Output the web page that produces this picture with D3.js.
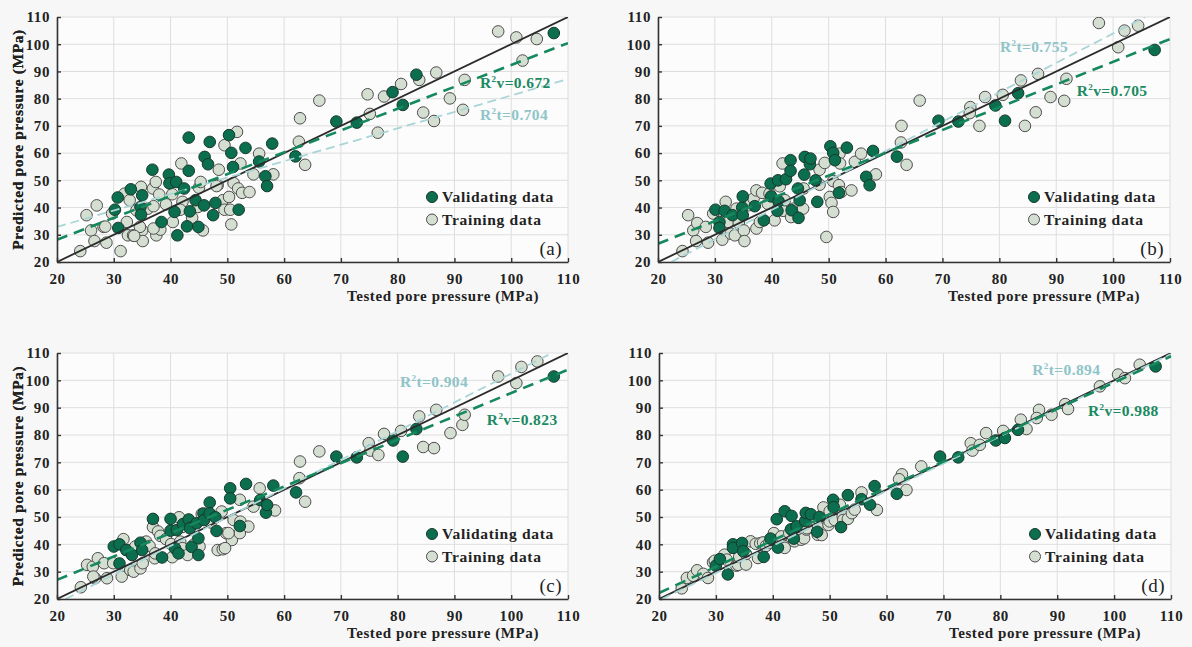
<!DOCTYPE html>
<html><head><meta charset="utf-8">
<script src="https://cdn.jsdelivr.net/npm/d3@7"></script>
<style>
html,body{margin:0;padding:0;background:#f7f7f7;}
svg{display:block;font-family:"Liberation Serif","Times New Roman",serif;}
</style></head><body>
<svg id="chart" width="1192" height="647"></svg>
<script>
// ---------- data ----------
const axisTicks = [20, 30, 40, 50, 60, 70, 80, 90, 100, 110];
const xTitle = "Tested pore pressure (MPa)";
const yTitle = "Predicted pore pressure (MPa)";
const legendLabels = ["Validating data", "Training data"];
const panelLabels = ["(a)", "(b)", "(c)", "(d)"];
const r2Train = ["0.704", "0.755", "0.904", "0.894"];
const r2Valid = ["0.672", "0.705", "0.823", "0.988"];

const trainA = [[24.1,24.0],[25.2,37.2],[26.0,31.6],[27.0,40.8],[26.6,27.7],[28.2,32.9],[28.7,27.1],[29.7,37.8],[31.2,24.0],[31.9,45.1],[32.5,29.8],[32.3,34.7],[32.8,42.7],[33.4,29.8],[34.0,39.0],[34.8,47.6],[35.0,31.6],[35.1,27.7],[34.6,32.9],[36.0,39.6],[36.9,47.0],[37.0,40.5],[37.4,49.4],[37.5,29.8],[38.0,44.8],[38.2,31.9],[37.0,32.3],[39.2,41.2],[40.3,44.9],[40.4,34.7],[41.9,56.2],[42.1,42.1],[41.7,39.2],[43.8,36.3],[44.8,40.2],[45.0,47.3],[45.3,49.4],[45.7,31.6],[48.5,53.9],[49.5,62.9],[48.3,48.2],[49.2,42.7],[49.5,39.2],[50.3,43.9],[50.7,33.8],[50.5,39.2],[51.1,49.0],[51.7,67.8],[51.9,47.0],[52.3,56.2],[52.6,45.4],[53.9,45.7],[54.6,52.2],[55.6,59.8],[58.1,52.2],[48.1,47.9],[28.5,33.0],[33.6,29.6],
[62.8,72.8],[62.6,64.2],[63.7,55.7],[66.2,79.3],[74.7,81.6],[75.1,74.4],[76.5,67.5],[77.6,80.8],[80.6,85.4],[83.8,86.9],[86.8,89.6],[84.5,74.9],[86.4,71.8],[89.2,80.1],[91.5,75.9],[91.8,86.9],[97.7,104.7],[100.9,102.5],[102.0,94.0],[104.5,101.9]];
const validA = [[30.2,39.2],[30.7,43.7],[30.8,32.5],[33.0,46.7],[34.7,40.2],[34.8,37.4],[35.0,44.5],[36.8,53.9],[38.4,34.7],[39.7,52.1],[39.8,48.9],[40.7,38.4],[41.0,49.4],[41.2,29.8],[42.4,47.0],[42.9,33.1],[43.2,65.7],[43.2,53.5],[43.4,38.6],[44.4,42.7],[44.9,32.9],[45.9,40.8],[46.0,58.6],[46.6,55.9],[46.9,64.1],[47.5,37.2],[47.9,41.7],[50.3,66.6],[50.7,60.1],[51.0,54.9],[52.0,39.2],[53.2,61.9],[55.6,56.9],[56.7,51.5],[57.0,47.9],[57.9,63.5],[62.0,58.8],[69.2,71.6],[72.8,71.2],[79.1,82.4],[80.9,77.7],[83.3,88.8],[107.5,104.1]];

const trainB = [[24.3,24.0],[25.3,37.2],[26.2,31.6],[26.9,34.3],[26.7,27.7],[28.4,32.9],[28.8,27.1],[29.7,37.8],[31.3,28.2],[31.9,42.1],[32.3,34.7],[32.8,30.4],[33.5,29.8],[33.8,39.6],[34.2,34.3],[35.1,31.6],[35.2,27.7],[35.8,40.8],[36.8,43.3],[37.3,46.3],[37.3,32.3],[37.9,34.7],[38.3,45.4],[39.3,41.4],[39.6,45.1],[40.5,35.3],[41.4,47.8],[41.9,56.2],[42.0,38.8],[42.3,42.7],[43.4,36.5],[43.8,39.6],[45.5,39.6],[45.6,47.0],[48.4,53.9],[48.4,48.4],[49.3,56.4],[49.6,29.2],[50.2,43.9],[50.5,41.7],[50.8,38.4],[50.8,49.7],[51.8,48.2],[51.9,59.8],[52.0,56.2],[52.2,45.7],[54.0,46.3],[54.6,56.8],[55.7,59.8],[58.3,52.2],
[62.8,70.0],[62.7,63.9],[63.7,55.7],[66.0,79.3],[74.9,76.9],[74.8,74.7],[76.5,70.0],[77.5,80.6],[80.6,81.4],[83.8,86.7],[86.8,89.1],[84.5,70.0],[86.4,75.0],[89.0,80.6],[91.4,79.2],[91.8,87.3],[97.5,107.8],[100.9,98.9],[102.0,105.0],[104.4,106.8]];
const validB = [[30.1,39.2],[30.8,34.7],[30.8,32.5],[31.7,38.8],[33.1,37.2],[34.8,40.0],[34.9,44.1],[34.9,37.2],[37.0,40.5],[38.6,35.3],[39.8,48.8],[39.9,44.1],[41.0,38.8],[41.1,50.0],[41.2,42.3],[42.5,50.4],[43.3,57.4],[43.3,53.5],[43.5,39.0],[44.6,47.0],[44.7,36.2],[44.9,42.7],[45.7,52.1],[45.8,58.6],[46.7,55.9],[46.8,58.0],[47.7,50.0],[48.0,42.1],[50.3,62.5],[50.8,60.1],[51.1,57.4],[51.8,45.4],[53.2,62.0],[56.6,51.3],[57.2,48.2],[57.8,60.8],[62.0,58.7],[69.3,71.9],[72.8,71.6],[79.3,77.5],[81.0,71.9],[83.3,82.0],[107.3,97.9]];

const trainC = [[24.2,24.3],[25.3,32.5],[26.3,31.8],[27.2,34.9],[26.7,27.6],[28.3,33.1],[28.8,27.6],[29.9,33.1],[31.4,28.2],[31.7,41.9],[32.6,37.9],[32.9,30.6],[33.5,30.0],[33.8,39.2],[34.7,31.2],[35.1,33.1],[35.7,41.0],[36.3,39.4],[36.9,46.3],[37.2,34.9],[37.8,44.7],[38.2,43.1],[39.2,41.9],[40.1,40.1],[40.3,35.3],[41.5,49.9],[41.7,41.0],[42.1,38.6],[43.0,36.1],[44.2,40.1],[45.1,39.2],[45.5,51.1],[47.1,48.0],[48.3,37.9],[49.2,38.2],[49.0,52.0],[49.8,44.1],[50.8,41.6],[51.1,48.9],[52.2,56.3],[52.3,48.3],[52.2,44.1],[53.7,46.5],[54.6,53.8],[55.7,60.5],[58.4,52.4],[37.3,36.7],[42.0,46.3],[50.2,44.1],[49.6,38.6],[26.4,28.2],
[62.8,70.3],[62.7,64.2],[63.7,55.6],[66.2,74.0],[74.9,77.0],[75.2,74.3],[76.6,72.7],[77.6,80.4],[80.6,81.5],[83.8,86.8],[86.8,89.2],[84.5,75.6],[86.4,75.2],[89.3,80.7],[91.4,83.7],[91.8,87.4],[97.7,101.4],[100.9,99.0],[101.8,104.9],[104.6,106.9]];
const validC = [[30.0,39.2],[31.0,40.0],[31.0,33.0],[32.2,37.9],[33.2,36.1],[34.7,40.6],[35.0,37.9],[36.9,49.3],[38.5,35.2],[40.0,49.3],[40.0,45.0],[40.8,38.5],[41.1,45.2],[41.4,36.7],[42.2,47.4],[43.2,49.1],[43.4,45.9],[43.7,39.1],[44.6,47.7],[44.9,42.2],[44.9,36.1],[45.8,51.3],[45.9,48.9],[46.9,55.3],[46.9,51.3],[47.9,49.9],[48.1,44.9],[50.5,60.5],[50.5,56.8],[52.2,46.7],[53.3,62.1],[55.8,56.2],[56.8,51.6],[57.0,54.4],[58.1,61.5],[62.1,59.0],[69.2,72.1],[72.8,71.8],[79.2,78.0],[80.9,72.1],[83.3,82.2],[107.5,101.4]];

const trainD = [[24.0,23.9],[24.9,27.7],[26.0,28.5],[26.7,30.5],[27.8,29.2],[28.6,27.7],[29.5,33.4],[29.8,34.0],[31.5,36.2],[31.9,34.4],[33.6,32.2],[33.9,32.5],[34.1,35.4],[35.3,32.6],[35.3,36.5],[36.1,41.1],[37.0,40.2],[37.4,35.0],[37.8,40.4],[38.3,40.7],[38.8,39.4],[39.4,40.5],[40.2,44.1],[40.6,41.6],[41.4,41.9],[41.5,42.9],[42.0,39.4],[42.1,38.7],[42.9,44.1],[43.8,41.1],[44.8,43.4],[45.0,41.7],[45.5,42.2],[45.9,45.4],[46.0,45.9],[47.9,43.5],[48.3,47.8],[48.6,43.4],[48.9,53.5],[49.5,48.9],[49.8,47.1],[50.0,48.4],[50.0,52.1],[50.8,50.2],[50.9,48.9],[51.1,53.2],[51.8,54.5],[52.3,50.2],[52.4,48.9],[53.2,49.3],[53.9,51.4],[54.4,52.7],[55.6,59.0],[58.3,52.6],
[62.7,65.6],[62.2,63.8],[63.5,59.9],[66.1,68.5],[74.8,77.0],[75.1,74.3],[76.4,76.4],[77.5,80.7],[80.5,81.5],[83.6,85.6],[84.6,82.2],[86.8,89.2],[86.4,86.2],[89.0,87.4],[91.4,91.3],[91.9,89.5],[97.5,97.8],[100.7,102.1],[101.9,100.8],[104.5,105.7]];
const validD = [[30.0,32.2],[30.7,34.6],[32.1,29.0],[33.0,40.0],[33.0,38.7],[34.6,40.5],[34.8,37.5],[38.4,35.4],[39.6,42.1],[40.7,49.2],[40.9,38.8],[42.1,52.1],[43.2,45.5],[43.3,50.4],[43.7,42.1],[44.2,46.6],[45.7,48.5],[45.8,51.5],[46.7,51.0],[47.8,44.6],[48.2,50.0],[50.6,56.3],[50.7,53.6],[52.0,46.3],[53.2,58.0],[55.6,56.5],[57.1,54.5],[57.9,61.3],[61.8,58.5],[69.4,72.1],[72.6,71.8],[79.2,78.0],[80.8,78.9],[83.1,81.9],[107.3,105.1]];

const identityLine = [[20,20],[110,110]];
const fitValid = [[[20,28.2],[110,100.4]], [[20,26.7],[110,101.9]], [[20,27.0],[110,103.9]], [[20,22.2],[110,108.8]]];
const fitTrain = [[[20,32.9],[110,87.2]], [[22.3,20],[105.6,110]], [[21.5,20],[107.2,110]], [[20.5,20],[110,109.6]]];

const trainSets = [trainA, trainB, trainC, trainD];
const validSets = [validA, validB, validC, validD];

// ---------- layout & style ----------
const layout = [
  {left:57,  top:17,  w:511, h:245, r2t:[94.5,72.2], r2v:[94.5,84.0]},
  {left:658, top:17,  w:512, h:245, r2t:[80.1,97.2], r2v:[93.6,81.0]},
  {left:57,  top:353, w:511, h:246, r2t:[80.4,97.7], r2v:[95.7,83.7]},
  {left:659, top:353, w:512, h:246, r2t:[85.6,102.1], r2v:[95.4,87.0]}
];
const C = {
  vFill:"#0b6e4f", vStroke:"#17382b",
  tFill:"#d4ded1", tStroke:"#4d4d4d",
  vLine:"#15895d", tLine:"#a9d5d6", idLine:"#2b2b2b",
  vText:"#1b8a62", tText:"#8fc4c9",
  grid:"#dedede", axis:"#333", text:"#222"
};

const svg = d3.select("#chart");

layout.forEach((L, i) => {
  const x = d3.scaleLinear().domain([20,110]).range([0, L.w]);
  const y = d3.scaleLinear().domain([20,110]).range([L.h, 0]);
  const g = svg.append("g").attr("transform", `translate(${L.left},${L.top})`);

  g.append("rect").attr("width", L.w).attr("height", L.h).attr("fill", "#fcfcfc");

  const clipId = "clip" + i;
  g.append("clipPath").attr("id", clipId).append("rect").attr("width", L.w).attr("height", L.h);

  // grid
  g.append("g").selectAll("line.v").data(axisTicks).join("line")
    .attr("x1", d => x(d)).attr("x2", d => x(d)).attr("y1", 0).attr("y2", L.h)
    .attr("stroke", C.grid).attr("stroke-width", 1);
  g.append("g").selectAll("line.h").data(axisTicks).join("line")
    .attr("y1", d => y(d)).attr("y2", d => y(d)).attr("x1", 0).attr("x2", L.w)
    .attr("stroke", C.grid).attr("stroke-width", 1);

  // points
  const pts = g.append("g").attr("clip-path", `url(#${clipId})`);
  pts.selectAll("circle.t").data(trainSets[i]).join("circle")
    .attr("cx", d => x(d[0])).attr("cy", d => y(d[1])).attr("r", 5.8)
    .attr("fill", C.tFill).attr("stroke", C.tStroke).attr("stroke-width", 1);
  pts.selectAll("circle.v").data(validSets[i]).join("circle")
    .attr("cx", d => x(d[0])).attr("cy", d => y(d[1])).attr("r", 5.8)
    .attr("fill", C.vFill).attr("stroke", C.vStroke).attr("stroke-width", 1);

  // lines
  const line = d3.line().x(d => x(d[0])).y(d => y(d[1]));
  const lg = g.append("g").attr("clip-path", `url(#${clipId})`);
  lg.append("path").attr("d", line(identityLine)).attr("fill","none")
    .attr("stroke", C.idLine).attr("stroke-width", 1.8);
  lg.append("path").attr("d", line(fitTrain[i])).attr("fill","none")
    .attr("stroke", C.tLine).attr("stroke-width", 1.8).attr("stroke-dasharray","9,5");
  lg.append("path").attr("d", line(fitValid[i])).attr("fill","none")
    .attr("stroke", C.vLine).attr("stroke-width", 2.6).attr("stroke-dasharray","11,7");

  // axes
  const ax = g.append("g").attr("transform", `translate(0,${L.h})`)
    .call(d3.axisBottom(x).tickValues(axisTicks).tickSizeInner(-4).tickSizeOuter(0).tickPadding(11));
  const ay = g.append("g")
    .call(d3.axisLeft(y).tickValues(axisTicks).tickSizeInner(-4).tickSizeOuter(0).tickPadding(7));
  [ax, ay].forEach(a => {
    a.select(".domain").attr("stroke", C.axis).attr("stroke-width", 1.6);
    a.selectAll(".tick line").attr("stroke", C.axis).attr("stroke-width", 1.4);
    a.selectAll(".tick text").attr("fill", C.text)
      .style("font-family", '"Liberation Serif","Times New Roman",serif')
      .style("font-size", "15px").style("font-weight", "bold").style("letter-spacing", "0.6px");
  });

  // titles
  g.append("text").attr("x", 386).attr("y", L.h + 39).attr("text-anchor", "middle")
    .attr("fill", C.text).style("font-size", "15px").style("font-weight", "bold").style("letter-spacing", "0.6px")
    .text(xTitle);
  g.append("text").attr("transform", `translate(${18 - L.left + (L.left > 300 ? 0 : 0)},${L.h/2}) rotate(-90)`)
    .attr("text-anchor", "middle").attr("dy", "0.35em")
    .attr("fill", C.text).style("font-size", "15.5px").style("font-weight", "bold").style("letter-spacing", "0.6px")
    .text(yTitle);

  // R2 labels
  function r2(pos, sub, val, color) {
    const t = g.append("text").attr("x", x(pos[0])).attr("y", y(pos[1]))
      .attr("fill", color).style("font-size", "15.5px").style("font-weight", "bold").style("letter-spacing", "0.4px");
    t.append("tspan").text("R");
    t.append("tspan").attr("dy", -6).style("font-size", "9px").text("2");
    t.append("tspan").attr("dy", 6).text(sub + "=" + val);
  }
  r2(L.r2t, "t", r2Train[i], C.tText);
  r2(L.r2v, "v", r2Valid[i], C.vText);

  // legend
  const leg = g.append("g").attr("transform", `translate(${L.w - 136},${L.h - 65})`);
  legendLabels.forEach((lab, k) => {
    const row = leg.append("g").attr("transform", `translate(0,${k * 22.5})`);
    row.append("circle").attr("r", 5.5)
      .attr("fill", k === 0 ? C.vFill : C.tFill).attr("stroke", k === 0 ? C.vStroke : C.tStroke).attr("stroke-width", 1);
    row.append("text").attr("x", 10).attr("dy", "0.35em").attr("fill", C.text)
      .style("font-size", "15.5px").style("font-weight", "bold").style("letter-spacing", "0.7px").text(lab);
  });

  // panel label
  g.append("text").attr("x", L.w - 6).attr("y", L.h - 7).attr("text-anchor", "end")
    .attr("fill", C.text).style("font-size", "19px").style("letter-spacing", "0.5px").text(panelLabels[i]);
});
</script>
</body></html>
